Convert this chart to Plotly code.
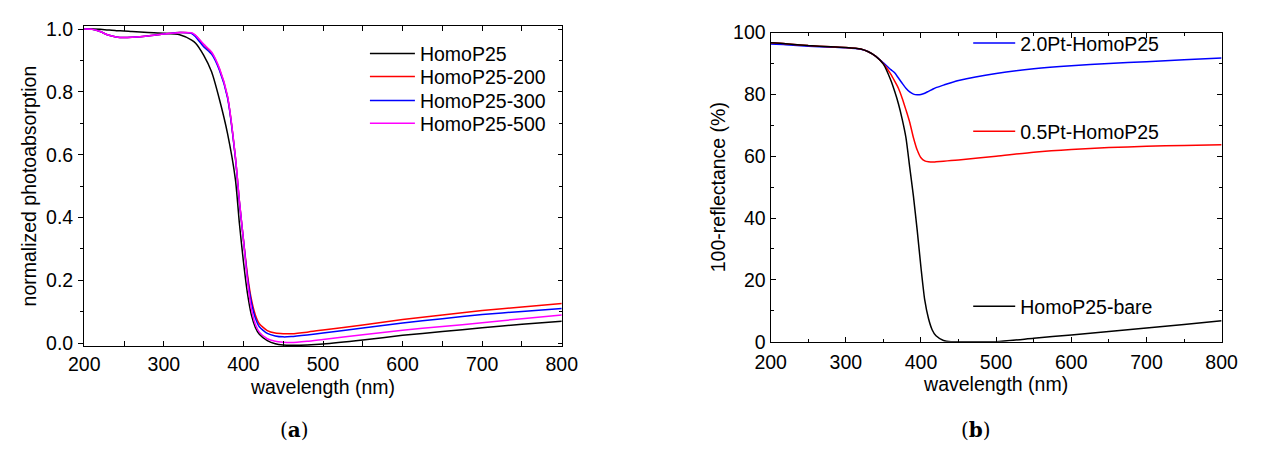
import plotly.graph_objects as go

# ---------------- data: panel (a) ----------------
wl_a = [200, 210, 220, 230, 240, 250, 260, 280, 300, 320, 335, 340, 350, 360, 370,
        380, 390, 395, 400, 405, 410, 415, 420, 430, 440, 450, 460, 480, 500, 550,
        600, 650, 700, 750, 800]
homo = [1.000, 1.000, 0.999, 0.997, 0.995, 0.994, 0.992, 0.989, 0.987, 0.982, 0.965,
        0.955, 0.917, 0.864, 0.775, 0.668, 0.520, 0.380, 0.260, 0.160, 0.090, 0.050,
        0.028, 0.008, -0.002, -0.006, -0.007, -0.006, -0.003, 0.010, 0.025, 0.037,
        0.049, 0.060, 0.070]
homo200 = [1.000, 0.999, 0.992, 0.981, 0.975, 0.973, 0.974, 0.978, 0.984, 0.989, 0.987,
           0.979, 0.950, 0.925, 0.872, 0.785, 0.590, 0.450, 0.330, 0.220, 0.140, 0.090,
           0.062, 0.040, 0.032, 0.030, 0.030, 0.035, 0.042, 0.058, 0.075, 0.090,
           0.104, 0.115, 0.126]
homo300 = [1.000, 0.999, 0.992, 0.981, 0.975, 0.973, 0.974, 0.978, 0.984, 0.989, 0.986,
           0.975, 0.944, 0.920, 0.868, 0.782, 0.588, 0.448, 0.330, 0.210, 0.130, 0.080,
           0.052, 0.031, 0.023, 0.020, 0.021, 0.026, 0.032, 0.048, 0.064, 0.078,
           0.091, 0.101, 0.110]
homo500 = [1.000, 0.999, 0.992, 0.981, 0.975, 0.973, 0.974, 0.978, 0.984, 0.989, 0.988,
           0.980, 0.952, 0.927, 0.874, 0.787, 0.592, 0.452, 0.330, 0.200, 0.110, 0.060,
           0.035, 0.014, 0.006, 0.003, 0.002, 0.006, 0.012, 0.027, 0.041, 0.053,
           0.065, 0.078, 0.090]

# ---------------- data: panel (b) ----------------
wl_b = [200, 220, 250, 280, 300, 320, 330, 340, 350, 360, 365, 370, 375, 380, 385, 390,
        395, 400, 405, 410, 415, 420, 430, 440, 450, 500, 550, 600, 650, 700, 750, 800]
bare = [96.7, 96.4, 95.8, 95.4, 95.2, 94.7, 93.8, 92.3, 89.8, 84.5, 81.0, 77.0, 72.0,
        66.0, 56.5, 47.0, 36.0, 24.0, 13.5, 7.5, 3.8, 1.9, 0.4, 0.0, 0.0, 0.0, 1.1,
        2.2, 3.3, 4.4, 5.6, 6.8]
pt05 = [96.7, 96.4, 95.8, 95.4, 95.2, 94.7, 93.8, 92.3, 89.9, 86.5, 84.3, 82.0, 78.8,
        75.0, 71.0, 66.0, 62.0, 59.5, 58.5, 58.2, 58.1, 58.2, 58.4, 58.6, 58.8, 60.0,
        61.3, 62.2, 62.8, 63.2, 63.5, 63.7]
pt20 = [96.3, 96.1, 95.6, 95.3, 95.1, 94.6, 93.8, 92.3, 90.2, 88.0, 87.0, 85.3, 83.6,
        82.0, 80.8, 80.1, 79.9, 80.0, 80.4, 81.0, 81.6, 82.2, 83.0, 83.8, 84.5, 86.8,
        88.3, 89.3, 90.0, 90.6, 91.2, 91.8]

FONT = "Liberation Sans, Arial, sans-serif"
FS = 19.5
W, H = 1261, 455

def px_x(p):
    return p / W

def px_y(p):
    return 1 - p / H

fig = go.Figure()

line_w = 1.5
panel_a = [("HomoP25", homo, "black", "legend", 45.0),
           ("HomoP25-200", homo200, "#ff0000", "legend5", 69.3),
           ("HomoP25-300", homo300, "#0000ff", "legend6", 94.3),
           ("HomoP25-500", homo500, "#ff00ff", "legend7", 118.3)]
for name, ys, col, lg, _ in panel_a:
    fig.add_trace(go.Scatter(x=wl_a, y=ys, name=name, mode="lines",
                             line=dict(color=col, width=line_w, shape="spline", smoothing=0.6),
                             xaxis="x", yaxis="y", legend=lg))

panel_b = [("2.0Pt-HomoP25", pt20, "#0000ff", "legend2", 34.0),
           ("0.5Pt-HomoP25", pt05, "#ff0000", "legend3", 126.7),
           ("HomoP25-bare", bare, "black", "legend4", 310.7)]
for name, ys, col, lg, _ in panel_b:
    fig.add_trace(go.Scatter(x=wl_b, y=ys, name=name, mode="lines",
                             line=dict(color=col, width=line_w, shape="spline", smoothing=0.6),
                             xaxis="x2", yaxis="y2", legend=lg))

# empty helper trace for inside ticks on right side of panel (a)
fig.add_trace(go.Scatter(x=[], y=[], xaxis="x", yaxis="y3", showlegend=False, hoverinfo="skip"))

axis_common = dict(showline=True, linecolor="black", linewidth=1.2, showgrid=False,
                   zeroline=False, tickcolor="black",
                   tickfont=dict(family=FONT, size=FS, color="black"),
                   title_font=dict(family=FONT, size=FS, color="black"))

fig.update_layout(
    # panel (a)
    xaxis=dict(domain=[px_x(70), px_x(560)], range=[200, 800], dtick=100, tick0=0,
               ticks="inside", ticklen=5, mirror="allticks", anchor="y", ticklabelstandoff=1,
               minor=dict(dtick=50, ticks="inside", ticklen=3, tickcolor="black"),
               title=dict(text="wavelength (nm)", standoff=5), **axis_common),
    yaxis=dict(domain=[px_y(352), px_y(16)], range=[-0.009, 1.009], dtick=0.2, tick0=0,
               tickformat=".1f", ticks="outside", ticklen=5, mirror=True, anchor="x",
               ticklabelstandoff=1,
               minor=dict(dtick=0.1, tick0=0, ticks="outside", ticklen=3, tickcolor="black"),
               title=dict(text="normalized photoabsorption", standoff=4), **axis_common),
    yaxis3=dict(overlaying="y", side="right", anchor="x", range=[-0.009, 1.009],
                dtick=0.2, tick0=0, ticks="inside", ticklen=4, showticklabels=False,
                showline=False, showgrid=False, zeroline=False, tickcolor="black",
                minor=dict(dtick=0.1, tick0=0, ticks="inside", ticklen=3, tickcolor="black")),
    # panel (b)
    xaxis2=dict(domain=[px_x(774.3), px_x(1237)], range=[200, 800], dtick=100, tick0=0,
                ticks="inside", ticklen=5, mirror="allticks", anchor="y2", ticklabelstandoff=3,
                minor=dict(dtick=50, ticks="inside", ticklen=3, tickcolor="black"),
                title=dict(text="wavelength (nm)", standoff=3), **axis_common),
    yaxis2=dict(domain=[px_y(347.5), px_y(22.7)], range=[0, 100], dtick=20, tick0=0,
                ticks="inside", ticklen=5, mirror="allticks", anchor="x2",
                minor=dict(dtick=10, ticks="inside", ticklen=3, tickcolor="black"),
                title=dict(text="100-reflectance (%)", standoff=2), **axis_common),
)

leg_common = dict(bgcolor="rgba(0,0,0,0)", borderwidth=0, xanchor="left", yanchor="middle",
                  font=dict(family=FONT, size=FS, color="black"), tracegroupgap=0)

legends = {}
for _, _, _, lg, yc in panel_a:
    legends[lg] = dict(x=px_x(358), y=px_y(yc), itemwidth=45, **leg_common)
for _, _, _, lg, yc in panel_b:
    legends[lg] = dict(x=px_x(977), y=px_y(yc), itemwidth=42, **leg_common)
fig.update_layout(**legends)

for txt, xc in [("(<b>a</b>)", 286), ("(<b>b</b>)", 985)]:
    fig.add_annotation(text=txt, x=px_x(xc), y=px_y(440), xref="paper", yref="paper",
                       xanchor="center", yanchor="middle", showarrow=False,
                       font=dict(family="DejaVu Serif, serif", size=20, color="black"))

fig.update_layout(width=W, height=H, margin=dict(l=0, r=0, t=0, b=0),
                  paper_bgcolor="white", plot_bgcolor="white", showlegend=True)

fig.write_html("out.html")
